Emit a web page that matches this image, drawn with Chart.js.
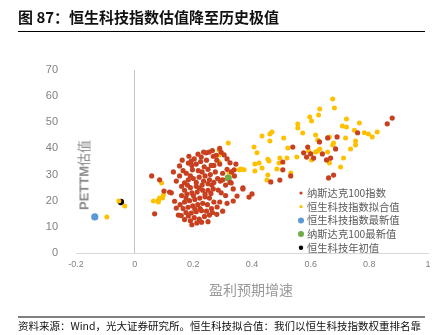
<!DOCTYPE html>
<html>
<head>
<meta charset="utf-8">
<script src="https://cdn.jsdelivr.net/npm/chart.js@4"></script>
<style>
  body { margin: 0; width: 440px; height: 335px; position: relative; overflow: hidden; background: #fff; font-family: "Noto Sans CJK SC", sans-serif; }
  #c { position: absolute; left: 0; top: 0; }
  #title { position: absolute; left: 18px; top: 6px; font-size: 15px; font-weight: bold; color: #111; white-space: nowrap; }
  #titleRule { position: absolute; left: 18px; top: 31px; width: 407px; height: 1px; background: #000; }
  #yTitle { position: absolute; left: 83px; top: 175px; transform: translate(-50%, -50%) rotate(-90deg); font-size: 13px; color: #8a8a8a; white-space: nowrap; }
  #yTitle b { font-family: "Liberation Sans", sans-serif; }
  #xTitle { position: absolute; left: 251px; top: 289px; transform: translate(-50%, -50%); font-size: 14px; color: #999; white-space: nowrap; }
  #footRule { position: absolute; left: 18px; top: 316px; width: 407px; height: 2px; background: #808080; }
  #foot { position: absolute; left: 18px; top: 318px; font-size: 10.5px; color: #111; white-space: nowrap; }
</style>
</head>
<body>
<canvas id="c" width="440" height="335"></canvas>
<div id="title">图 87：恒生科技指数估值降至历史极值</div>
<div id="titleRule"></div>
<div id="yTitle"><b>PETTM</b>估值</div>
<div id="xTitle">盈利预期增速</div>
<div id="footRule"></div>
<div id="foot">资料来源：Wind，光大证券研究所。恒生科技拟合值：我们以恒生科技指数权重排名靠</div>
<script>
// [盈利预期增速, PETTM]
const nasdaq100 = [
    [0.058, 29.5], [0.085, 28.0], [0.068, 15.0], [0.100, 23.7], [0.119, 23.3], [0.125, 23.0],
    [0.136, 19.8], [0.142, 17.2], [0.149, 14.5], [0.153, 33.3], [0.153, 29.5], [0.170, 26.8],
    [0.159, 14.3], [0.183, 34.4], [0.193, 35.2], [0.203, 36.0], [0.227, 36.7], [0.244, 38.3],
    [0.254, 38.6], [0.268, 37.0], [0.278, 37.4], [0.295, 38.5], [0.305, 37.5], [0.290, 34.0],
    [0.261, 33.5], [0.237, 33.0], [0.217, 31.5], [0.197, 31.8], [0.176, 30.5], [0.183, 28.0],
    [0.200, 28.5], [0.220, 29.0], [0.240, 29.5], [0.258, 30.0], [0.275, 31.0], [0.300, 30.5],
    [0.315, 32.0], [0.330, 31.0], [0.340, 29.5], [0.325, 27.0], [0.310, 26.0], [0.292, 27.5],
    [0.270, 27.0], [0.250, 26.5], [0.230, 26.0], [0.210, 25.5], [0.190, 25.0], [0.170, 24.0],
    [0.160, 22.0], [0.178, 22.5], [0.195, 23.0], [0.213, 23.3], [0.232, 24.0], [0.250, 24.0],
    [0.268, 24.5], [0.285, 24.1], [0.295, 23.0], [0.310, 22.0], [0.336, 24.5], [0.349, 21.8],
    [0.336, 19.9], [0.369, 24.5], [0.390, 21.4], [0.400, 22.6], [0.281, 17.6], [0.270, 19.5],
    [0.255, 21.0], [0.240, 21.5], [0.222, 21.0], [0.205, 20.5], [0.187, 20.0], [0.170, 19.5],
    [0.155, 18.5], [0.165, 17.0], [0.182, 17.5], [0.198, 18.0], [0.215, 18.5], [0.232, 19.0],
    [0.248, 18.5], [0.262, 17.0], [0.245, 16.0], [0.228, 16.2], [0.210, 15.8], [0.193, 15.3],
    [0.175, 15.5], [0.183, 14.2], [0.203, 13.5], [0.220, 13.0], [0.238, 14.0], [0.255, 14.5],
    [0.190, 12.3], [0.212, 11.5], [0.228, 11.8], [0.170, 12.8], [0.250, 12.0], [0.300, 16.0],
    [0.290, 19.5], [0.315, 19.0], [0.200, 22.0], [0.220, 24.8], [0.180, 26.0], [0.235, 27.5],
    [0.255, 28.0], [0.210, 27.0], [0.190, 29.5], [0.230, 31.0], [0.250, 32.0], [0.270, 33.5],
    [0.210, 34.0], [0.225, 35.0], [0.245, 35.5], [0.280, 35.5], [0.195, 33.5], [0.165, 31.5],
    [0.263, 26.0], [0.283, 28.5], [0.300, 28.0], [0.240, 22.5], [0.260, 22.8], [0.175, 21.0],
    [0.223, 17.0], [0.205, 16.8], [0.265, 15.5], [0.280, 14.8], [0.195, 10.8], [0.160, 25.5],
    [0.142, 27.5], [0.132, 31.0], [0.216, 37.8], [0.265, 39.2], [0.315, 36.0], [0.290, 40.0],
    [0.325, 34.5], [0.345, 34.0], [0.235, 38.6], [0.185, 37.0], [0.162, 35.5],
    [0.878, 51.6], [0.861, 49.4], [0.760, 46.0], [0.690, 44.4], [0.658, 44.0], [0.630, 42.5],
    [0.685, 39.8], [0.590, 40.5], [0.576, 38.3], [0.586, 36.7], [0.600, 37.9], [0.610, 36.3],
    [0.640, 37.9], [0.654, 35.6], [0.668, 36.3], [0.539, 40.5], [0.505, 34.8], [0.505, 31.8],
    [0.532, 29.5], [0.495, 27.9], [0.464, 27.2], [0.661, 28.7], [0.678, 29.8], [0.339, 31.8],
    [0.369, 24.9], [0.329, 26.8]
];
const hstechFit = [
    [-0.095, 13.8], [-0.054, 19.9], [-0.034, 18.0],
    [0.064, 19.9], [0.081, 19.5], [0.081, 20.3], [0.085, 21.0], [0.095, 21.0], [0.098, 22.2],
    [0.092, 26.8], [0.319, 42.1], [0.288, 39.4], [0.288, 37.5], [0.288, 34.8], [0.322, 31.0],
    [0.329, 30.6], [0.356, 31.8], [0.292, 27.9], [0.359, 31.8], [0.373, 31.8], [0.363, 32.1],
    [0.410, 31.4], [0.451, 27.9], [0.454, 29.8], [0.532, 30.6], [0.702, 32.9],
    [0.407, 40.5], [0.417, 38.3], [0.410, 34.0], [0.424, 34.4], [0.434, 32.5], [0.454, 35.9],
    [0.458, 35.2], [0.485, 32.1], [0.492, 34.4], [0.495, 36.3], [0.519, 36.3], [0.522, 40.2],
    [0.553, 36.7], [0.593, 39.0], [0.603, 35.6], [0.617, 38.6], [0.631, 39.8], [0.624, 39.0],
    [0.658, 38.6], [0.661, 35.2], [0.664, 34.4], [0.712, 36.3], [0.736, 39.8], [0.753, 41.3],
    [0.753, 42.8], [0.719, 44.0], [0.675, 41.3], [0.678, 42.1], [0.664, 44.4], [0.624, 43.2],
    [0.617, 45.1], [0.573, 45.9], [0.508, 44.0], [0.461, 42.8], [0.434, 44.8], [0.468, 46.3],
    [0.461, 45.5], [0.810, 44.4], [0.827, 46.3], [0.797, 45.5], [0.783, 46.0], [0.749, 47.0],
    [0.766, 49.7], [0.722, 48.2], [0.708, 48.6], [0.722, 51.3], [0.556, 47.8], [0.556, 49.3],
    [0.603, 50.5], [0.597, 52.0], [0.627, 52.8], [0.631, 55.1], [0.681, 55.5], [0.675, 58.9]
];
const hstechLatest = [[-0.136, 13.8]];
const nasdaqLatest = [[0.319, 28.7]];
const hstechYearStart = [[-0.047, 19.5]];

const seriesNames = ['纳斯达克100指数', '恒生科技指数拟合值', '恒生科技指数最新值', '纳斯达克100最新值', '恒生科技年初值'];
const seriesColors = ['#C8401F', '#FFC000', '#5B9BD5', '#70AD47', '#000000'];
const seriesSizes = [2.6, 2.5, 3.6, 3.6, 3.2];
const legendSizes = [1.6, 1.6, 3, 3, 2.2];
const xTicks = [-0.2, 0, 0.2, 0.4, 0.6, 0.8, 1];
const yTicks = [0, 10, 20, 30, 40, 50, 60, 70];

const allSeries = [nasdaq100, hstechFit, hstechLatest, nasdaqLatest, hstechYearStart];

const datasets = allSeries.map((pts, i) => ({
    label: seriesNames[i],
    data: pts.map(p => ({ x: p[0], y: p[1] })),
    backgroundColor: seriesColors[i],
    borderWidth: 0,
    pointRadius: seriesSizes[i],
    pointHoverRadius: seriesSizes[i]
}));

// legend sits inside the plot, bottom right
const insideLegend = {
    id: 'insideLegend',
    afterDraw(chart) {
        const ctx = chart.ctx;
        ctx.save();
        ctx.font = '10.3px "Noto Sans CJK SC"';
        ctx.textBaseline = 'middle';
        chart.data.datasets.forEach((ds, i) => {
            const y = 193 + i * 13.7;
            ctx.fillStyle = ds.backgroundColor;
            ctx.beginPath();
            ctx.arc(301, y, legendSizes[i], 0, Math.PI * 2);
            ctx.fill();
            ctx.fillStyle = '#595959';
            ctx.fillText(ds.label, 307, y);
        });
        ctx.restore();
    }
};

new Chart(document.getElementById('c'), {
    type: 'scatter',
    data: { datasets: datasets },
    options: {
        responsive: false,
        animation: false,
        layout: { padding: { left: 40, right: 12, top: 70, bottom: 62 } },
        plugins: { legend: { display: false }, tooltip: { enabled: false } },
        scales: {
            x: {
                min: xTicks[0],
                max: xTicks[xTicks.length - 1],
                afterBuildTicks: s => { s.ticks = xTicks.map(v => ({ value: v })); },
                afterFit: s => { s.height = 20; },
                ticks: {
                    font: { family: 'Liberation Sans', size: 9 },
                    color: '#808080',
                    padding: 6,
                    callback: v => String(v)
                },
                grid: {
                    drawTicks: false,
                    color: c => (c.tick && Math.abs(c.tick.value) < 1e-9) ? '#c4c4c4' : 'rgba(0,0,0,0)'
                },
                border: { display: true, color: '#d9d9d9' }
            },
            y: {
                min: yTicks[0],
                max: yTicks[yTicks.length - 1],
                afterBuildTicks: s => { s.ticks = yTicks.map(v => ({ value: v })); },
                afterFit: s => { s.width = 36; },
                ticks: {
                    font: { family: 'Liberation Sans', size: 11 },
                    color: '#808080',
                    padding: 10
                },
                grid: { display: false },
                border: { display: false }
            }
        }
    },
    plugins: [insideLegend]
});
</script>
</body>
</html>
